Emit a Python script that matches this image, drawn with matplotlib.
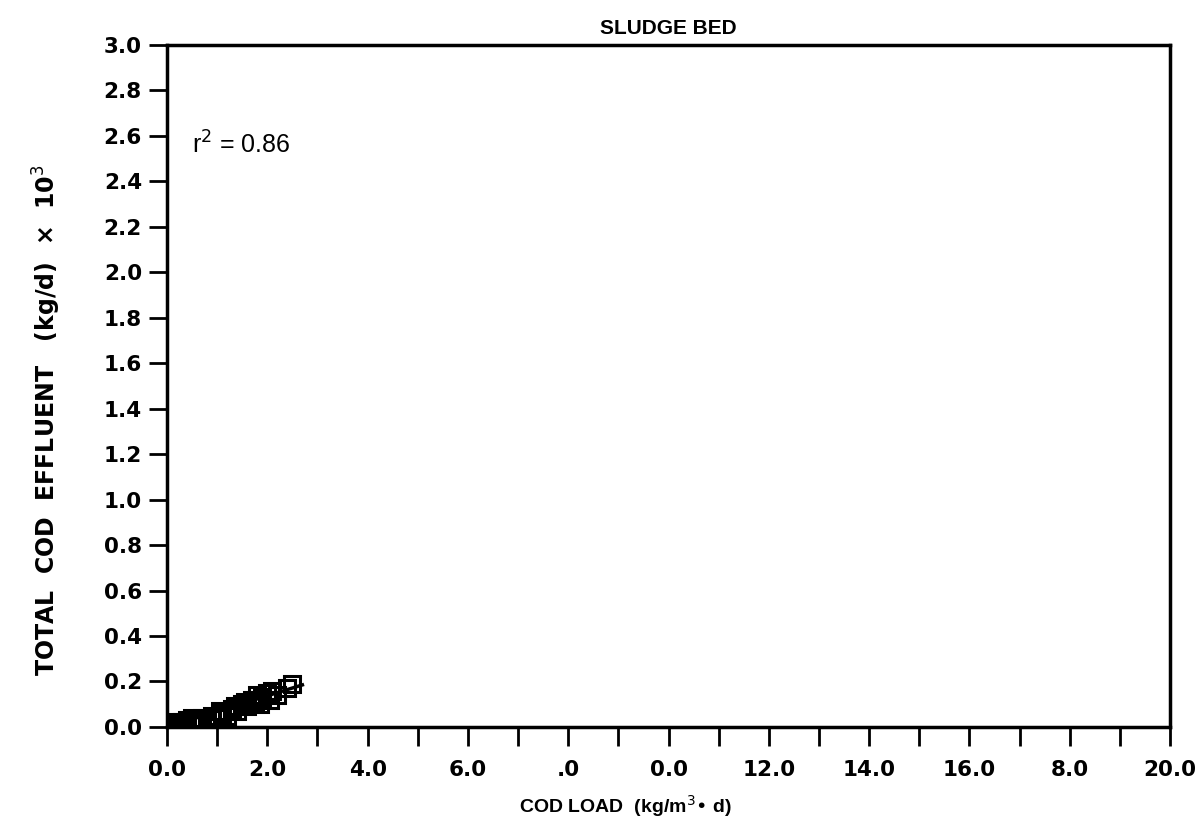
import matplotlib
matplotlib.use("Agg")
import matplotlib.pyplot as plt
import numpy as np

# Data
cod_load = [0.05, 0.1, 0.15, 0.2, 0.25, 0.3, 0.35, 0.4, 0.5, 0.55, 0.6, 0.65, 0.7,
            0.8, 0.9, 1.0, 1.05, 1.1, 1.2, 1.3, 1.35, 1.4, 1.5, 1.55, 1.6, 1.7,
            1.75, 1.8, 1.85, 1.9, 2.0, 2.05, 2.1, 2.2, 2.4, 2.5]
cod_eff = [0.01, 0.0, 0.02, 0.01, 0.0, 0.02, 0.01, 0.03, 0.04, 0.02, 0.03, 0.01, 0.04,
           0.03, 0.05, 0.04, 0.07, 0.06, 0.05, 0.08, 0.09, 0.07, 0.10, 0.11, 0.09, 0.12,
           0.11, 0.14, 0.10, 0.13, 0.15, 0.12, 0.16, 0.14, 0.17, 0.19]
fit_x = [0.0, 2.7]
fit_y = [0.0, 0.185]

xtick_vals = [0, 2, 4, 6, 8, 10, 12, 14, 16, 18, 20]
xtick_labels = ["0.0", "2.0", "4.0", "6.0", ".0", "0.0", "12.0", "14.0", "16.0", "8.0", "20.0"]
ytick_vals = [round(0.2 * i, 1) for i in range(16)]
ytick_labels = [f"{v:.1f}" for v in ytick_vals]

fig = plt.figure(figsize=(12.03, 8.23), dpi=100)
ax = fig.add_axes([0.1388, 0.1167, 0.8338, 0.8286])

ax.plot(cod_load, cod_eff, linestyle="none", marker="s", markersize=11,
        markerfacecolor="none", markeredgecolor="black", markeredgewidth=2.2)
ax.plot(fit_x, fit_y, color="black", linewidth=2.5)

ax.set_xlim(0, 20)
ax.set_ylim(0, 3.0)
ax.set_xticks(xtick_vals)
ax.set_xticklabels(xtick_labels)
ax.set_xticks(np.arange(1, 20, 2), minor=True)
ax.set_yticks(ytick_vals)
ax.set_yticklabels(ytick_labels)

for lab in ax.get_xticklabels() + ax.get_yticklabels():
    lab.set_fontweight("bold")
    lab.set_fontsize(15.5)
    lab.set_family("DejaVu Sans")

ax.tick_params(axis="both", which="both", direction="out", width=2, color="black")
ax.tick_params(axis="x", which="both", length=14, pad=10)
ax.tick_params(axis="y", which="both", length=13, pad=5)
for s in ax.spines.values():
    s.set_linewidth(2.5)

fig.text(668 / 1203, 1 - 28 / 823, "SLUDGE BED", fontsize=15, fontweight="bold",
         family="Liberation Sans", ha="center", va="center")
fig.text(625 / 1203, 1 - 806 / 823, "COD LOAD  (kg/m$^3$• d)", fontsize=14, fontweight="bold",
         family="Liberation Sans", ha="center", va="center")
fig.text(47 / 1203, 1 - 420 / 823, "TOTAL  COD  EFFLUENT   (kg/d)  ×  10$^3$", fontsize=17,
         fontweight="bold", family="DejaVu Sans", ha="center", va="center", rotation=90)
ax.text(0.5, 2.56, "r$^2$ = 0.86", fontsize=18, family="Liberation Sans", va="center", ha="left")

fig.savefig("out.png", dpi=100)
